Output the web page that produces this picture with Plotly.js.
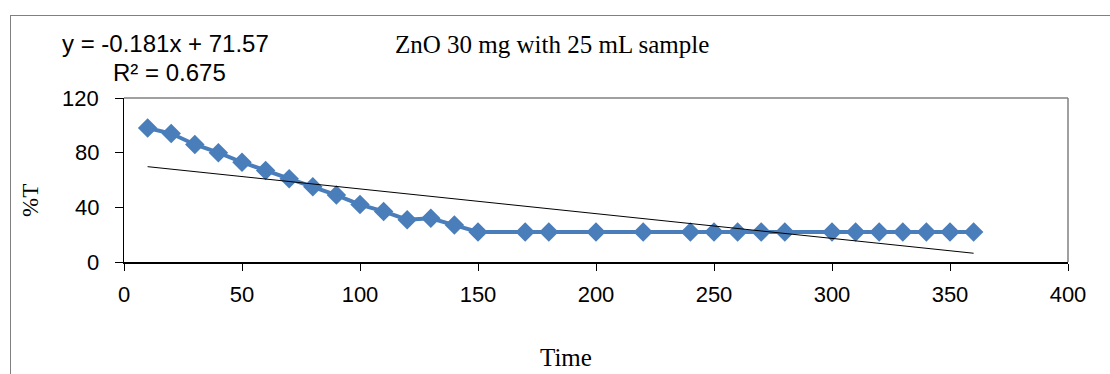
<!DOCTYPE html>
<html>
<head>
<meta charset="utf-8">
<script src="https://cdn.plot.ly/plotly-3.0.1.min.js"></script>
<style>
html,body{margin:0;padding:0;background:#fff;}
#wrap{position:relative;width:1110px;height:374px;overflow:hidden;}
#frame{position:absolute;left:10px;top:15px;width:1200px;height:400px;border-left:1.5px solid #808080;border-top:1.5px solid #808080;pointer-events:none;}
#chart{position:absolute;left:0;top:0;width:1110px;height:374px;}
</style>
</head>
<body>
<div id="wrap"><div id="chart"></div><div id="frame"></div></div>
<script>
const time = [10,20,30,40,50,60,70,80,90,100,110,120,130,140,150,170,180,200,220,240,250,260,270,280,300,310,320,330,340,350,360];
const transmittance = [98,94,86,80,73,67,61,55,49,42,37,31,32,27,22,22,22,22,22,22,22,22,22,22,22,22,22,22,22,22,22];
const trendSlope = -0.181;
const trendIntercept = 71.57;
const xTicks = [0,50,100,150,200,250,300,350,400];
const yTicks = [0,40,80,120];
const chartTitle = "ZnO 30 mg with 25 mL sample";
const eqText = "y = -0.181x + 71.57";
const r2Text = "R² = 0.675";
const xTitle = "Time";
const yTitle = "%T";

const xMin = Math.min(...time), xMax = Math.max(...time);
const trendX = [xMin, xMax];
const trendY = trendX.map(x => trendSlope * x + trendIntercept);

const W = 1110, H = 374, ML = 124, MR = 42, MT = 98, MB = 112;
const pw = W - ML - MR, ph = H - MT - MB;
const px = x => (x - ML) / pw;
const py = y => (H - MB - y) / ph;

const sans = 'Liberation Sans, Arial, sans-serif';
const serif = 'Liberation Serif, Times New Roman, serif';

const data = [
  {x: time, y: transmittance, type: 'scatter', mode: 'lines+markers',
   line: {color: '#4A7EBB', width: 4},
   marker: {symbol: 'diamond', size: 15, color: '#4A7EBB'}},
  {x: trendX, y: trendY, type: 'scatter', mode: 'lines',
   line: {color: '#000000', width: 1}}
];

const yTickLabels = yTicks.map(v => ({
  text: String(v), xref: 'paper', yref: 'y', x: px(101), y: v, xanchor: 'right', yanchor: 'middle',
  showarrow: false, font: {family: sans, size: 22}
}));

const layout = {
  width: W, height: H,
  margin: {l: ML, r: MR, t: MT, b: MB},
  showlegend: false,
  paper_bgcolor: '#ffffff', plot_bgcolor: '#ffffff',
  font: {family: sans, size: 22, color: '#000'},
  xaxis: {range: [0, 400], tickvals: xTicks, ticks: 'outside', ticklen: 7, tickcolor: '#000',
    showgrid: false, zeroline: false, showline: true, linecolor: '#000', linewidth: 1.5,
    tickfont: {size: 22}, ticklabelstandoff: 5},
  yaxis: {range: [0, 120], tickvals: yTicks, ticks: 'outside', ticklen: 8, tickcolor: '#000',
    showgrid: false, zeroline: false, showline: true, linecolor: '#000', linewidth: 1.5,
    showticklabels: false},
  shapes: [
    {type: 'line', xref: 'paper', yref: 'paper', x0: 0, x1: 1, y0: 1, y1: 1, line: {color: '#808080', width: 1.5}},
    {type: 'line', xref: 'paper', yref: 'paper', x0: 1, x1: 1, y0: 0, y1: 1, line: {color: '#808080', width: 1.5}}
  ],
  annotations: yTickLabels.concat([
    {text: eqText, xref: 'paper', yref: 'paper', x: px(60), y: py(44), xanchor: 'left', yanchor: 'middle', showarrow: false,
     font: {family: sans, size: 24}},
    {text: r2Text, xref: 'paper', yref: 'paper', x: px(111), y: py(72), xanchor: 'left', yanchor: 'middle', showarrow: false,
     font: {family: sans, size: 24}},
    {text: chartTitle, xref: 'paper', yref: 'paper', x: px(393), y: py(45), xanchor: 'left', yanchor: 'middle', showarrow: false,
     font: {family: serif, size: 25}},
    {text: xTitle, xref: 'paper', yref: 'paper', x: px(566), y: py(357), xanchor: 'center', yanchor: 'middle', showarrow: false,
     font: {family: serif, size: 25}},
    {text: yTitle, xref: 'paper', yref: 'paper', x: px(30), y: py(201), xanchor: 'center', yanchor: 'middle', showarrow: false,
     textangle: -90, font: {family: serif, size: 23}}
  ])
};

Plotly.newPlot('chart', data, layout, {staticPlot: true, displayModeBar: false});
</script>
</body>
</html>
